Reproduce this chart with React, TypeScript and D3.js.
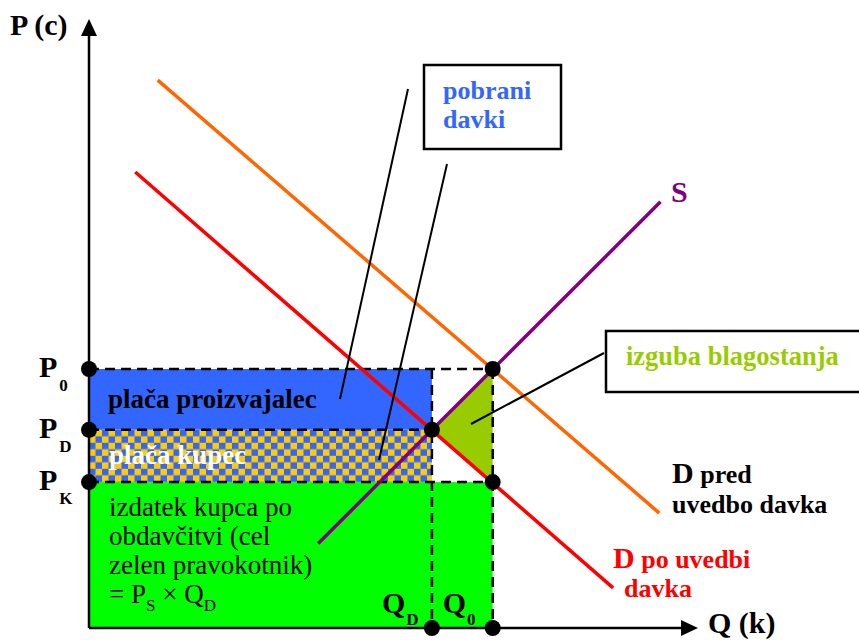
import React from "react";
import * as d3 from "d3";

// Price levels (P0, PD, PK) and their subscript labels
const priceLevels = [42.6, 32.6, 24.0];
const priceSubs = ["0", "D", "K"];
// Quantity levels (QD, Q0) and their subscript labels
const quantityLevels = [56.4, 66.4];
const quantitySubs = ["D", "0"];

// Curves as [Q, P] end points
const supplyCurve: [number, number][] = [[37.7, 13.9], [94.0, 70.1]];
const demandBefore: [number, number][] = [[11.3, 90.1], [93.8, 18.9]];
const demandAfter: [number, number][] = [[7.6, 75.0], [86.2, 6.6]];

const W = 859;
const H = 640;

export default function App() {
  const x = d3.scaleLinear().domain([0, 100]).range([89, 697]);
  const y = d3.scaleLinear().domain([0, 100]).range([628, 20]);
  const line = d3.line<[number, number]>().x((d) => x(d[0])).y((d) => y(d[1]));

  const [p0, pD, pK] = priceLevels;
  const [qD, q0] = quantityLevels;
  const x0 = x(0);
  const yBase = y(0);

  const triangle: [number, number][] = [[qD, pD], [q0, p0], [q0, pK]];
  const triPath = line(triangle) + "Z";

  const serif = "'Liberation Serif', 'Times New Roman', serif";
  const dash = "10,6";

  const dots: [number, number][] = [
    [0, p0], [0, pD], [0, pK],
    [qD, 0], [q0, 0],
    [qD, pD], [q0, p0], [q0, pK],
  ];

  return (
    <svg
      width={W}
      height={H}
      style={{ position: "absolute", left: 0, top: 0, background: "#fff" }}
      fontFamily={serif}
    >
      <defs>
        <pattern id="checker" patternUnits="userSpaceOnUse" width={13} height={13} x={x0} y={y(pD)}>
          <rect width={13} height={13} fill="#ffcc00" />
          <rect width={6.5} height={6.5} fill="#3366ff" />
          <rect x={6.5} y={6.5} width={6.5} height={6.5} fill="#3366ff" />
        </pattern>
      </defs>

      {/* areas */}
      <rect x={x0} y={y(p0)} width={x(qD) - x0} height={y(pD) - y(p0)} fill="#3366ff" />
      <rect x={x0} y={y(pD)} width={x(qD) - x0} height={y(pK) - y(pD)} fill="url(#checker)" />
      <rect x={x0} y={y(pK)} width={x(q0) - x0} height={yBase - y(pK)} fill="#00ff00" />
      <path d={triPath} fill="#99cc00" />

      {/* dashed guides */}
      <g stroke="#000" strokeWidth={2.5} strokeDasharray={dash} fill="none">
        <line x1={x0} x2={x(q0)} y1={y(p0)} y2={y(p0)} />
        <line x1={x0} x2={x(qD)} y1={y(pD)} y2={y(pD)} />
        <line x1={x0} x2={x(q0)} y1={y(pK)} y2={y(pK)} />
        <line x1={x(qD)} x2={x(qD)} y1={y(p0)} y2={yBase} />
        <line x1={x(q0)} x2={x(q0)} y1={y(p0)} y2={yBase} />
      </g>

      {/* curves */}
      <path d={line(demandAfter) || ""} stroke="#ff0000" strokeWidth={3.5} fill="none" />
      <path d={line(demandBefore) || ""} stroke="#ff6600" strokeWidth={3.5} fill="none" />
      <path d={line(supplyCurve) || ""} stroke="#800080" strokeWidth={3.5} fill="none" />

      {/* axes */}
      <line x1={x0} x2={x0} y1={yBase} y2={34} stroke="#000" strokeWidth={2.5} />
      <path d={`M${x0},19 L${x0 - 8},36 L${x0 + 8},36 Z`} fill="#000" />
      <line x1={x0} x2={682} y1={yBase} y2={yBase} stroke="#000" strokeWidth={2.5} />
      <path d={`M698,${yBase} L681,${yBase - 8} L681,${yBase + 8} Z`} fill="#000" />

      {/* callout leaders */}
      <g stroke="#000" strokeWidth={2}>
        <line x1={408} y1={89} x2={340} y2={399} />
        <line x1={447} y1={164} x2={379} y2={460} />
        <line x1={604} y1={353} x2={471} y2={424} />
      </g>

      {/* points */}
      {dots.map((d, i) => (
        <circle key={i} cx={x(d[0])} cy={y(d[1])} r={8} fill="#000" />
      ))}

      {/* callout boxes */}
      <rect x={424} y={65} width={137} height={84} fill="#fff" stroke="#000" strokeWidth={2.5} />
      <text x={443} y={99} fontSize={26} fontWeight="bold" fill="#3366ff">pobrani</text>
      <text x={443} y={128} fontSize={26} fontWeight="bold" fill="#3366ff">davki</text>

      <rect x={606} y={331} width={270} height={61} fill="#fff" stroke="#000" strokeWidth={2.5} />
      <text x={626} y={365} fontSize={26.5} fontWeight="bold" fill="#99cc00">izguba blagostanja</text>

      {/* axis titles */}
      <text x={10} y={35} fontSize={30} fontWeight="bold">P (c)</text>
      <text x={708} y={633} fontSize={30} fontWeight="bold">Q (k)</text>

      {/* price labels */}
      {priceLevels.map((p, i) => (
        <text key={i} x={39} y={y(p) + 8} fontSize={30} fontWeight="bold">
          P
          <tspan dx={2} dy={14} fontSize={17}>{priceSubs[i]}</tspan>
        </text>
      ))}

      {/* quantity labels */}
      {quantityLevels.map((q, i) => (
        <text key={i} x={x(q) - 50} y={613} fontSize={30} fontWeight="bold">
          Q
          <tspan dx={1} dy={12} fontSize={17}>{quantitySubs[i]}</tspan>
        </text>
      ))}

      {/* area labels */}
      <text x={108} y={408} fontSize={27} fontWeight="bold" fill="#000">plača proizvajalec</text>
      <text x={109} y={464} fontSize={27} fontWeight="bold" fill="#fff">plača kupec</text>

      <g fontSize={27} fill="#000">
        <text x={109} y={516}>izdatek kupca po</text>
        <text x={109} y={545}>obdavčitvi (cel</text>
        <text x={109} y={574}>zelen pravokotnik)</text>
        <text x={109} y={603}>
          = P<tspan dy={8} fontSize={17}>S</tspan>
          <tspan dy={-8}> × Q</tspan>
          <tspan dy={8} fontSize={17}>D</tspan>
        </text>
      </g>

      {/* curve labels */}
      <text x={671} y={202} fontSize={30} fontWeight="bold" fill="#800080">S</text>
      <text x={672} y={483} fontWeight="bold" fill="#000">
        <tspan fontSize={30}>D</tspan>
        <tspan fontSize={26}> pred</tspan>
      </text>
      <text x={672} y={513} fontSize={26} fontWeight="bold" fill="#000">uvedbo davka</text>
      <text x={613} y={568} fontWeight="bold" fill="#ff0000">
        <tspan fontSize={30}>D</tspan>
        <tspan fontSize={26}> po uvedbi</tspan>
      </text>
      <text x={624} y={597} fontSize={26} fontWeight="bold" fill="#ff0000">davka</text>
    </svg>
  );
}
